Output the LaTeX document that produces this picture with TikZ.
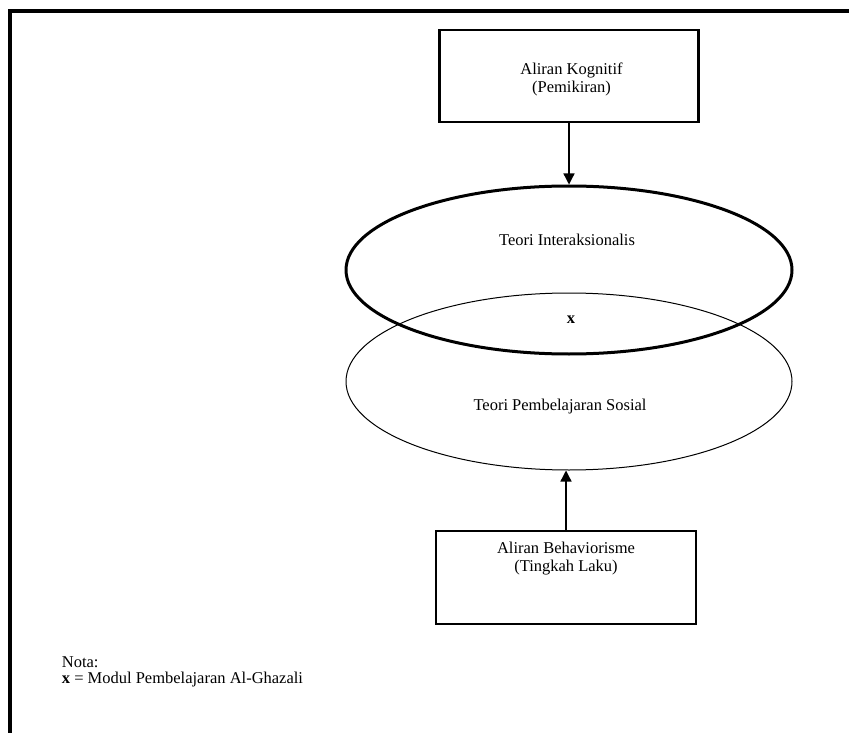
\documentclass[tikz,border=0pt]{standalone}
\usepackage{fontspec}
\setmainfont{Liberation Serif}
\usetikzlibrary{shapes.geometric,arrows.meta}
\begin{document}
\begin{tikzpicture}[x=1pt,y=-1pt,
  box/.style={draw,line width=2.7pt,inner sep=0pt},
  ell/.style={draw,ellipse,inner sep=0pt,minimum width=446pt},
  txt/.style={font=\fontsize{16.5}{18}\selectfont,align=center,inner sep=0pt},
  conn/.style={line width=1.3pt,-{Triangle[width=11pt,length=11pt]}}]
\useasboundingbox (0,0) rectangle (849,733);
\draw[line width=4pt] (10,733) -- (10,11) -- (849,11);

\node[box,minimum width=259pt,minimum height=92pt] (kog) at (569,76) {};
\node[txt] (kogt) at (571.5,79) {Aliran Kognitif\\(Pemikiran)};

\node[ell,minimum height=177pt,line width=1pt] (e2) at (569,381.5) {};
\node[ell,minimum height=168pt,line width=3pt] (e1) at (569,270) {};

\node[txt,anchor=base] (ti) at (567,245.7) {Teori Interaksionalis};
\node[txt,anchor=base] (xx) at (571,323) {\textbf{x}};
\node[txt,anchor=base] (tps) at (560,410) {Teori Pembelajaran Sosial};

\node[box,minimum width=260pt,minimum height=93pt] (beh) at (566,577.5) {};
\node[txt] (beht) at (566,558.4) {Aliran Behaviorisme\\(Tingkah Laku)};

\draw[conn] (kog.south) -- (kog.south |- e1.north);
\draw[conn] (beh.north) -- (beh.north |- e2.south);

\node[txt,anchor=base west] (nota) at (61.7,667) {Nota:};
\node[txt,anchor=base west] (notax) at (61.7,683) {\textbf{x} = Modul Pembelajaran Al-Ghazali};
\end{tikzpicture}
\end{document}
